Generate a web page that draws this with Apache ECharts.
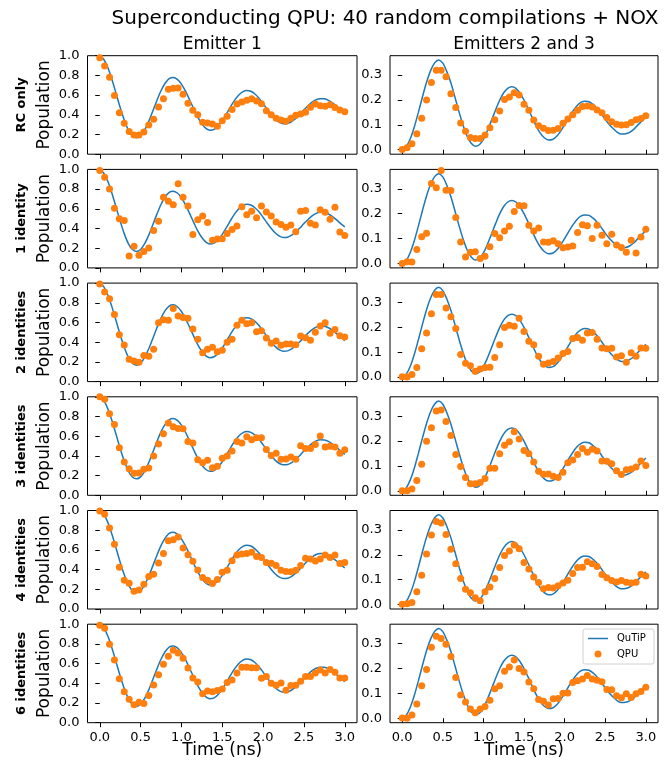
<!DOCTYPE html>
<html>
<head>
<meta charset="utf-8">
<script src="https://cdn.jsdelivr.net/npm/echarts@6/dist/echarts.min.js"></script>
<style>
html,body{margin:0;padding:0;background:#fff;}
#chart{width:672px;height:761px;}
</style>
</head>
<body>
<div id="chart"></div>
<script>
// ---------------- DATA ----------------
const TITLE = 'Superconducting QPU: 40 random compilations + NOX';
const COLUMN_TITLES = ['Emitter 1', 'Emitters 2 and 3'];
const ROW_LABELS = ['RC only', '1 identity', '2 identities', '3 identities', '4 identities', '6 identities'];
const X_TICKS = [0, 0.5, 1, 1.5, 2, 2.5, 3];
const Y_TICKS_E1 = [0, 0.2, 0.4, 0.6, 0.8, 1.0];
const Y_TICKS_E23 = [0, 0.1, 0.2, 0.3];

// time grid of the QuTiP curve (ns)
const T_LINE = [0,0.05,0.1,0.15,0.2,0.25,0.3,0.35,0.4,0.45,0.5,0.55,0.6,0.65,0.7,0.75,0.8,0.85,0.9,0.95,
  1,1.05,1.1,1.15,1.2,1.25,1.3,1.35,1.4,1.45,1.5,1.55,1.6,1.65,1.7,1.75,1.8,1.85,1.9,1.95,
  2,2.05,2.1,2.15,2.2,2.25,2.3,2.35,2.4,2.45,2.5,2.55,2.6,2.65,2.7,2.75,2.8,2.85,2.9,2.95,3];
const QUTIP_E1 = [1.0,.961,.877,.756,.617,.475,.348,.247,.186,.167,.187,.246,.333,.438,.546,.644,.720,.767,.779,.760,
  .712,.640,.553,.462,.376,.308,.262,.243,.252,.287,.341,.408,.480,.546,.599,.633,.647,.639,.611,.569,
  .514,.456,.401,.355,.323,.309,.312,.332,.364,.405,.450,.492,.528,.553,.564,.562,.547,.520,.487,.450,.416];
const QUTIP_E23 = [0,.012,.044,.092,.151,.213,.271,.318,.349,.361,.348,.314,.268,.211,.152,.098,.054,.026,.014,.020,
  .042,.077,.118,.160,.199,.229,.247,.253,.247,.228,.200,.166,.130,.095,.067,.048,.039,.041,.053,.074,
  .100,.128,.154,.176,.190,.195,.193,.182,.166,.145,.122,.101,.084,.070,.063,.064,.070,.082,.099,.115,.132];

// time grid of the QPU measurements (ns)
const T_QPU = [0,0.06,0.12,0.18,0.24,0.3,0.36,0.42,0.48,0.54,0.6,0.66,0.72,0.78,0.84,0.9,0.96,1.02,1.08,1.14,
  1.2,1.26,1.32,1.38,1.44,1.5,1.56,1.62,1.68,1.74,1.8,1.86,1.92,1.98,2.04,2.1,2.16,2.22,2.28,2.34,
  2.4,2.46,2.52,2.58,2.64,2.7,2.76,2.82,2.88,2.94,3.0];

const QPU_E1_RC = [.98,.895,.78,.595,.42,.315,.23,.196,.196,.226,.297,.355,.48,.564,.66,.67,.672,.608,.517,.446,
  .40,.324,.318,.307,.284,.34,.385,.453,.51,.53,.547,.564,.54,.513,.44,.40,.365,.348,.334,.365,
  .395,.409,.426,.476,.51,.493,.486,.503,.473,.45,.432];
const QPU_E23_RC = [.001,.008,.024,.064,.127,.20,.27,.32,.32,.293,.225,.17,.107,.074,.049,.045,.045,.059,.088,.121,
  .156,.202,.212,.229,.22,.183,.159,.119,.096,.086,.077,.078,.085,.106,.124,.141,.159,.174,.176,.172,
  .16,.149,.13,.112,.102,.099,.10,.109,.12,.126,.137];
const QPU_E1_ID1 = [.99,.92,.80,.605,.50,.48,.12,.22,.128,.166,.203,.38,.473,.716,.676,.642,.855,.716,.628,.34,
  .49,.527,.46,.28,.294,.297,.35,.389,.426,.62,.54,.574,.51,.628,.568,.527,.466,.44,.412,.436,
  .368,.574,.584,.453,.436,.59,.564,.493,.615,.365,.328];
const QPU_E23_ID1 = [0,.007,.006,.056,.107,.121,.321,.304,.374,.294,.293,.185,.086,.026,.045,.047,.02,.029,.067,.12,
  .103,.13,.149,.209,.233,.232,.153,.13,.142,.086,.085,.091,.079,.063,.066,.07,.124,.155,.151,.10,
  .153,.113,.079,.117,.074,.064,.045,.093,.042,.106,.137];
const QPU_E1_ID2 = [.99,.91,.84,.68,.476,.372,.226,.21,.196,.264,.257,.328,.598,.628,.622,.743,.666,.652,.642,.534,
  .429,.294,.328,.348,.304,.318,.399,.429,.571,.622,.588,.598,.507,.517,.443,.389,.412,.368,.382,.382,
  .375,.463,.446,.419,.50,.564,.598,.49,.53,.466,.453];
const QPU_E23_ID2 = [.001,0,.011,.039,.114,.177,.255,.332,.332,.278,.243,.195,.091,.056,.046,.024,.033,.039,.04,.079,
  .13,.199,.209,.205,.237,.183,.144,.13,.084,.052,.057,.063,.077,.095,.103,.155,.159,.148,.177,.179,
  .152,.117,.114,.116,.081,.086,.06,.098,.084,.117,.116];
const QPU_E1_ID3 = [1.0,.976,.828,.72,.483,.338,.27,.223,.226,.264,.277,.399,.52,.625,.733,.696,.679,.676,.547,.53,
  .361,.331,.355,.28,.294,.375,.399,.449,.547,.53,.595,.564,.584,.584,.466,.405,.426,.365,.368,.389,
  .365,.503,.476,.476,.517,.601,.49,.497,.49,.426,.463];
const QPU_E23_ID3 = [0,0,.007,.042,.107,.199,.254,.321,.325,.279,.222,.146,.098,.054,.028,.028,.033,.05,.091,.091,
  .149,.183,.197,.237,.208,.162,.149,.116,.079,.067,.068,.059,.054,.075,.113,.124,.146,.17,.155,.167,
  .16,.12,.119,.109,.081,.066,.085,.088,.096,.12,.102];
const QPU_E1_ID4 = [.995,.961,.823,.657,.424,.292,.262,.181,.194,.252,.329,.353,.468,.563,.694,.704,.731,.62,.552,.485,
  .397,.319,.292,.258,.299,.373,.394,.491,.549,.559,.563,.576,.532,.522,.471,.465,.441,.394,.38,.377,
  .394,.441,.515,.508,.488,.508,.549,.522,.549,.461,.471];
const QPU_E23_ID4 = [.001,.003,.008,.051,.118,.203,.28,.334,.328,.282,.222,.164,.105,.061,.047,.027,.015,.051,.07,.105,
  .149,.197,.215,.239,.224,.169,.143,.111,.089,.063,.068,.066,.075,.087,.098,.125,.149,.15,.172,.164,
  .153,.121,.108,.097,.091,.097,.09,.087,.09,.122,.115];
const QPU_E1_ID6 = [.99,.958,.796,.637,.445,.313,.238,.181,.208,.195,.276,.384,.488,.593,.674,.735,.708,.654,.556,.455,
  .414,.293,.323,.313,.326,.343,.407,.434,.505,.563,.563,.559,.559,.451,.468,.40,.38,.404,.33,.377,
  .38,.421,.468,.468,.505,.536,.505,.539,.512,.455,.455];
const QPU_E23_ID6 = [.001,0,.013,.057,.131,.196,.285,.33,.321,.297,.248,.164,.093,.065,.037,.022,.037,.047,.072,.118,
  .131,.189,.206,.234,.2,.186,.146,.118,.075,.068,.053,.078,.079,.1,.101,.144,.151,.158,.172,.158,
  .153,.147,.115,.114,.09,.082,.098,.083,.098,.107,.125];

const QPU_E1 = [QPU_E1_RC, QPU_E1_ID1, QPU_E1_ID2, QPU_E1_ID3, QPU_E1_ID4, QPU_E1_ID6];
const QPU_E23 = [QPU_E23_RC, QPU_E23_ID1, QPU_E23_ID2, QPU_E23_ID3, QPU_E23_ID4, QPU_E23_ID6];

// ---------------- LAYOUT / STYLE ----------------
const FONT = 'DejaVu Sans';
const BLUE = '#1f77b4', ORANGE = '#ff7f0e';
const COL_LEFT = [87.5, 390];
const COL_WIDTH = [269.5, 268];
const ROW_TOP = [55.7, 169.4, 283.1, 396.8, 510.5, 624.2];
const ROW_H = 98.5;
const TICK_FS = 13;
const LABEL_FS = 17;

const pair = (xs, ys) => ys.map((v, i) => [xs[i], v]);

const grids = [], xAxes = [], yAxes = [], series = [];
const graphics = [];
let gi = 0;
for (let r = 0; r < 6; r++) {
  for (let c = 0; c < 2; c++) {
    grids.push({
      left: COL_LEFT[c], top: ROW_TOP[r], width: COL_WIDTH[c], height: ROW_H,
      show: true, borderColor: '#000', borderWidth: 1, backgroundColor: 'transparent',
      containLabel: false, outerBoundsMode: 'none'
    });
    const last = r === 5;
    xAxes.push({
      type: 'value', gridIndex: gi, min: -0.15, max: 3.15,
      axisLine: { show: false },
      splitLine: { show: false },
      axisTick: { show: true, inside: false, length: 4.5, customValues: X_TICKS, lineStyle: { color: '#000', width: 1 } },
      axisLabel: { show: last, customValues: X_TICKS, margin: 8, fontFamily: FONT, fontSize: TICK_FS, color: '#000',
        formatter: v => v.toFixed(1) }
    });
    if (c === 0) {
      yAxes.push({
        type: 'value', gridIndex: gi, min: 0, max: 1, interval: 0.2,
        axisLine: { show: false }, splitLine: { show: false },
        axisTick: { show: true, length: 4.5, lineStyle: { color: '#000', width: 1 } },
        axisLabel: { margin: 8, fontFamily: FONT, fontSize: TICK_FS, color: '#000', formatter: v => v.toFixed(1) }
      });
    } else {
      yAxes.push({
        type: 'value', gridIndex: gi, min: -0.018, max: 0.378,
        axisLine: { show: false }, splitLine: { show: false },
        axisTick: { show: true, length: 4.5, customValues: Y_TICKS_E23, lineStyle: { color: '#000', width: 1 } },
        axisLabel: { margin: 8, customValues: Y_TICKS_E23, fontFamily: FONT, fontSize: TICK_FS, color: '#000', formatter: v => v.toFixed(1) }
      });
    }
    series.push({
      name: 'QuTiP', type: 'line', xAxisIndex: gi, yAxisIndex: gi,
      data: pair(T_LINE, c === 0 ? QUTIP_E1 : QUTIP_E23),
      showSymbol: false, smooth: 0.3, lineStyle: { color: BLUE, width: 1.5 }, z: 2, silent: true
    });
    series.push({
      name: 'QPU', type: 'scatter', xAxisIndex: gi, yAxisIndex: gi,
      data: pair(T_QPU, c === 0 ? QPU_E1[r] : QPU_E23[r]),
      symbol: 'circle', symbolSize: 7, itemStyle: { color: ORANGE, opacity: 1 }, z: 3, silent: true
    });
    gi++;
  }
  const cy = ROW_TOP[r] + ROW_H / 2;
  graphics.push({ type: 'text', x: 22, y: cy, rotation: Math.PI / 2,
    style: { text: ROW_LABELS[r], fontFamily: FONT, fontWeight: 'bold', fontSize: 13, fill: '#000', align: 'center', verticalAlign: 'middle' } });
  graphics.push({ type: 'text', x: 45, y: cy, rotation: Math.PI / 2,
    style: { text: 'Population', fontFamily: FONT, fontSize: LABEL_FS, fill: '#000', align: 'center', verticalAlign: 'middle' } });
}
// column titles and x labels
for (let c = 0; c < 2; c++) {
  const cx = COL_LEFT[c] + COL_WIDTH[c] / 2;
  graphics.push({ type: 'text', x: cx, y: 44.5, style: { text: COLUMN_TITLES[c], fontFamily: FONT, fontSize: LABEL_FS, fill: '#000', align: 'center', verticalAlign: 'middle' } });
  graphics.push({ type: 'text', x: cx, y: 750.5, style: { text: 'Time (ns)', fontFamily: FONT, fontSize: LABEL_FS, fill: '#000', align: 'center', verticalAlign: 'middle' } });
}
graphics.push({ type: 'text', x: 385, y: 19, style: { text: TITLE, fontFamily: FONT, fontSize: 20, fill: '#000', align: 'center', verticalAlign: 'middle' } });

// legend (bottom-right panel)
graphics.push({ type: 'rect', shape: { x: 583, y: 629, width: 71, height: 35, r: 2 }, style: { fill: 'rgba(255,255,255,0.8)', stroke: '#d0d0d0', lineWidth: 1 }, z: 10 });
graphics.push({ type: 'line', shape: { x1: 588, y1: 638.5, x2: 608, y2: 638.5 }, style: { stroke: BLUE, lineWidth: 1.5 }, z: 11 });
graphics.push({ type: 'circle', shape: { cx: 598, cy: 654, r: 3.5 }, style: { fill: ORANGE }, z: 11 });
graphics.push({ type: 'text', x: 617, y: 638.5, style: { text: 'QuTiP', fontFamily: FONT, fontSize: 10, fill: '#000', align: 'left', verticalAlign: 'middle' }, z: 11 });
graphics.push({ type: 'text', x: 617, y: 654, style: { text: 'QPU', fontFamily: FONT, fontSize: 10, fill: '#000', align: 'left', verticalAlign: 'middle' }, z: 11 });

const chart = echarts.init(document.getElementById('chart'), null, { renderer: 'canvas' });
chart.setOption({
  animation: false,
  backgroundColor: '#fff',
  grid: grids, xAxis: xAxes, yAxis: yAxes, series: series,
  graphic: graphics
});
</script>
</body>
</html>
